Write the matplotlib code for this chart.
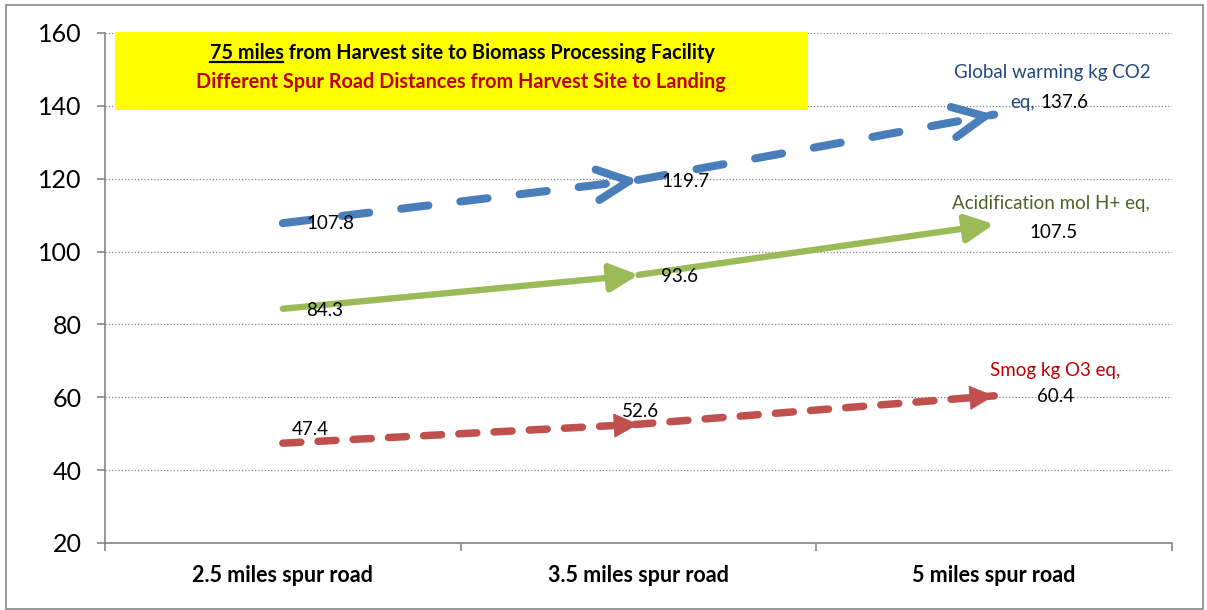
"""Spur road distance scenarios: impact per category, drawn as arrowed lines."""
import matplotlib
matplotlib.use("Agg")
import matplotlib.pyplot as plt
import numpy as np
from matplotlib.patches import Rectangle
from matplotlib.lines import Line2D

plt.rcParams["font.family"] = ["Lato", "DejaVu Sans"]

categories = ["2.5 miles spur road", "3.5 miles spur road", "5 miles spur road"]
global_warming = [107.8, 119.7, 137.6]
acidification = [84.3, 93.6, 107.5]
smog = [47.4, 52.6, 60.4]
series_names = ["Global warming kg CO2\neq,", "Acidification mol H+ eq,", "Smog kg O3 eq,"]
yticks = [20, 40, 60, 80, 100, 120, 140, 160]
title1_ul = "75 miles"
title1_rest = " from Harvest site to Biomass Processing Facility"
title2 = "Different Spur Road Distances from Harvest Site to Landing"

BLUE, GREEN, RED = "#4A7EBB", "#9BBB59", "#C0504D"
GRAY = "#868686"

W, H = 1207, 610
fig = plt.figure(figsize=(W / 100, H / 100), dpi=100)
ax = fig.add_axes([105 / W, 1 - 543 / H, 1067 / W, 510 / H])
x = np.arange(len(categories)) + 0.5
ax.set_xlim(0, 3); ax.set_ylim(20, 160)

# axes look
for s in ["top", "right"]: ax.spines[s].set_visible(False)
for s in ["left", "bottom"]: ax.spines[s].set_color(GRAY); ax.spines[s].set_linewidth(1.2)
ax.set_yticks(yticks)
ax.set_xticks([0, 1, 2, 3]); ax.set_xticklabels([])
ax.set_xticks(x, minor=True); ax.set_xticklabels(categories, minor=True, fontweight="bold", fontsize=15.5)
ax.tick_params(axis="x", which="minor", length=0, pad=16)
ax.tick_params(axis="x", which="major", length=6, color=GRAY, width=1.2)
ax.tick_params(axis="y", length=6, color=GRAY, width=1.2, labelsize=18, pad=11)
ax.yaxis.grid(True, linestyle=(0, (1, 1.6)), color=GRAY, lw=0.9)
ax.set_axisbelow(True)


def head(xs, ys, i, color, style, lw):
    # arrowhead pointing at data point i, along segment i-1 -> i
    t = 0.04
    x0 = xs[i] - t * (xs[i] - xs[i - 1]); y0 = ys[i] - t * (ys[i] - ys[i - 1])
    ax.annotate("", xy=(xs[i], ys[i]), xytext=(x0, y0),
                arrowprops=dict(arrowstyle=style, color=color, lw=lw, shrinkA=0, shrinkB=0,
                                mutation_scale=20, capstyle="round", joinstyle="round"), zorder=4)


# global warming: long dashes, open heads
ax.add_line(Line2D(x, global_warming, color=BLUE, lw=5.8, dashes=(3.4, 4.0), dash_capstyle="round", zorder=3))
for i in (1, 2): head(x, global_warming, i, BLUE, "->,head_length=1.15,head_width=0.55", 5.8)
# acidification: solid, filled heads
for i in (1, 2):
    ax.annotate("", xy=(x[i], acidification[i]), xytext=(x[i - 1], acidification[i - 1]),
                arrowprops=dict(arrowstyle="-|>,head_length=0.85,head_width=0.42", color=GREEN, lw=4.6,
                                shrinkA=0, shrinkB=0, mutation_scale=20, capstyle="round"), zorder=3)
# smog: short dashes, filled heads
ax.add_line(Line2D(x, smog, color=RED, lw=5.4, dashes=(2.4, 2.3), dash_capstyle="round", zorder=3))
for i in (1, 2): head(x, smog, i, RED, "-|>,head_length=0.85,head_width=0.42", 0.5)

# data labels (offsets in points)
lab = dict(fontsize=13.5, textcoords="offset points", ha="center", va="center", zorder=5)
gw_off = [(34.5, -0.6), (34, -1)]
ac_off = [(30, -1.5), (29.5, -1.5)]
sm_off = [(20, 10), (1.5, 9)]
for i in (0, 1):
    ax.annotate(f"{global_warming[i]:.1f}", (x[i], global_warming[i]), xytext=gw_off[i], **lab)
    ax.annotate(f"{acidification[i]:.1f}", (x[i], acidification[i]), xytext=ac_off[i], **lab)
    ax.annotate(f"{smog[i]:.1f}", (x[i], smog[i]), xytext=sm_off[i], **lab)

# end labels: series name + value
p = (x[2], global_warming[2])
ax.annotate(series_names[0].split("\n")[0], p, xytext=(41.8, 30), color="#1F497D", **lab)
ax.annotate(series_names[0].split("\n")[1], p, xytext=(29.5, 9), color="#1F497D",
            **{**lab, "ha": "right"})
ax.annotate(f"{global_warming[2]:.1f}", p, xytext=(33, 9), **{**lab, "ha": "left"})
p = (x[2], acidification[2])
ax.annotate(series_names[1], p, xytext=(41, 15), color="#4F6228", **lab)
ax.annotate(f"{acidification[2]:.1f}", p, xytext=(42.5, -5.8), **lab)
p = (x[2], smog[2])
ax.annotate(series_names[2], p, xytext=(44, 18), color="#C00000", **lab)
ax.annotate(f"{smog[2]:.1f}", p, xytext=(44, -0.7), **lab)

# title box
fig.patches.append(Rectangle((115 / W, 1 - 110 / H), 693 / W, 78 / H, transform=fig.transFigure,
                             facecolor="#FFFF00", edgecolor="none", zorder=2))
t1 = fig.text(462 / W, 1 - 53 / H, title1_ul + title1_rest, ha="center", va="center",
              fontsize=14.3, fontweight="bold", zorder=3)
fig.text(461 / W, 1 - 82 / H, title2, ha="center", va="center", fontsize=14.3,
         fontweight="bold", color="#C00000", zorder=3)
r = fig.canvas.get_renderer()
bb = t1.get_window_extent(r)
tmp = fig.text(0, 0, title1_ul, fontsize=14.3, fontweight="bold")
wu = tmp.get_window_extent(r).width; tmp.remove()
yl = bb.y0 + 1
fig.add_artist(Line2D([bb.x0, bb.x0 + wu], [yl, yl], transform=None, color="black", lw=1.6, zorder=3))

# outer chart border
fig.patches.append(Rectangle((6 / W, 1 / H), 1197 / W, 604 / H, transform=fig.transFigure,
                             facecolor="none", edgecolor=GRAY, lw=1.2, zorder=1))

fig.savefig("out.png", dpi=100)
